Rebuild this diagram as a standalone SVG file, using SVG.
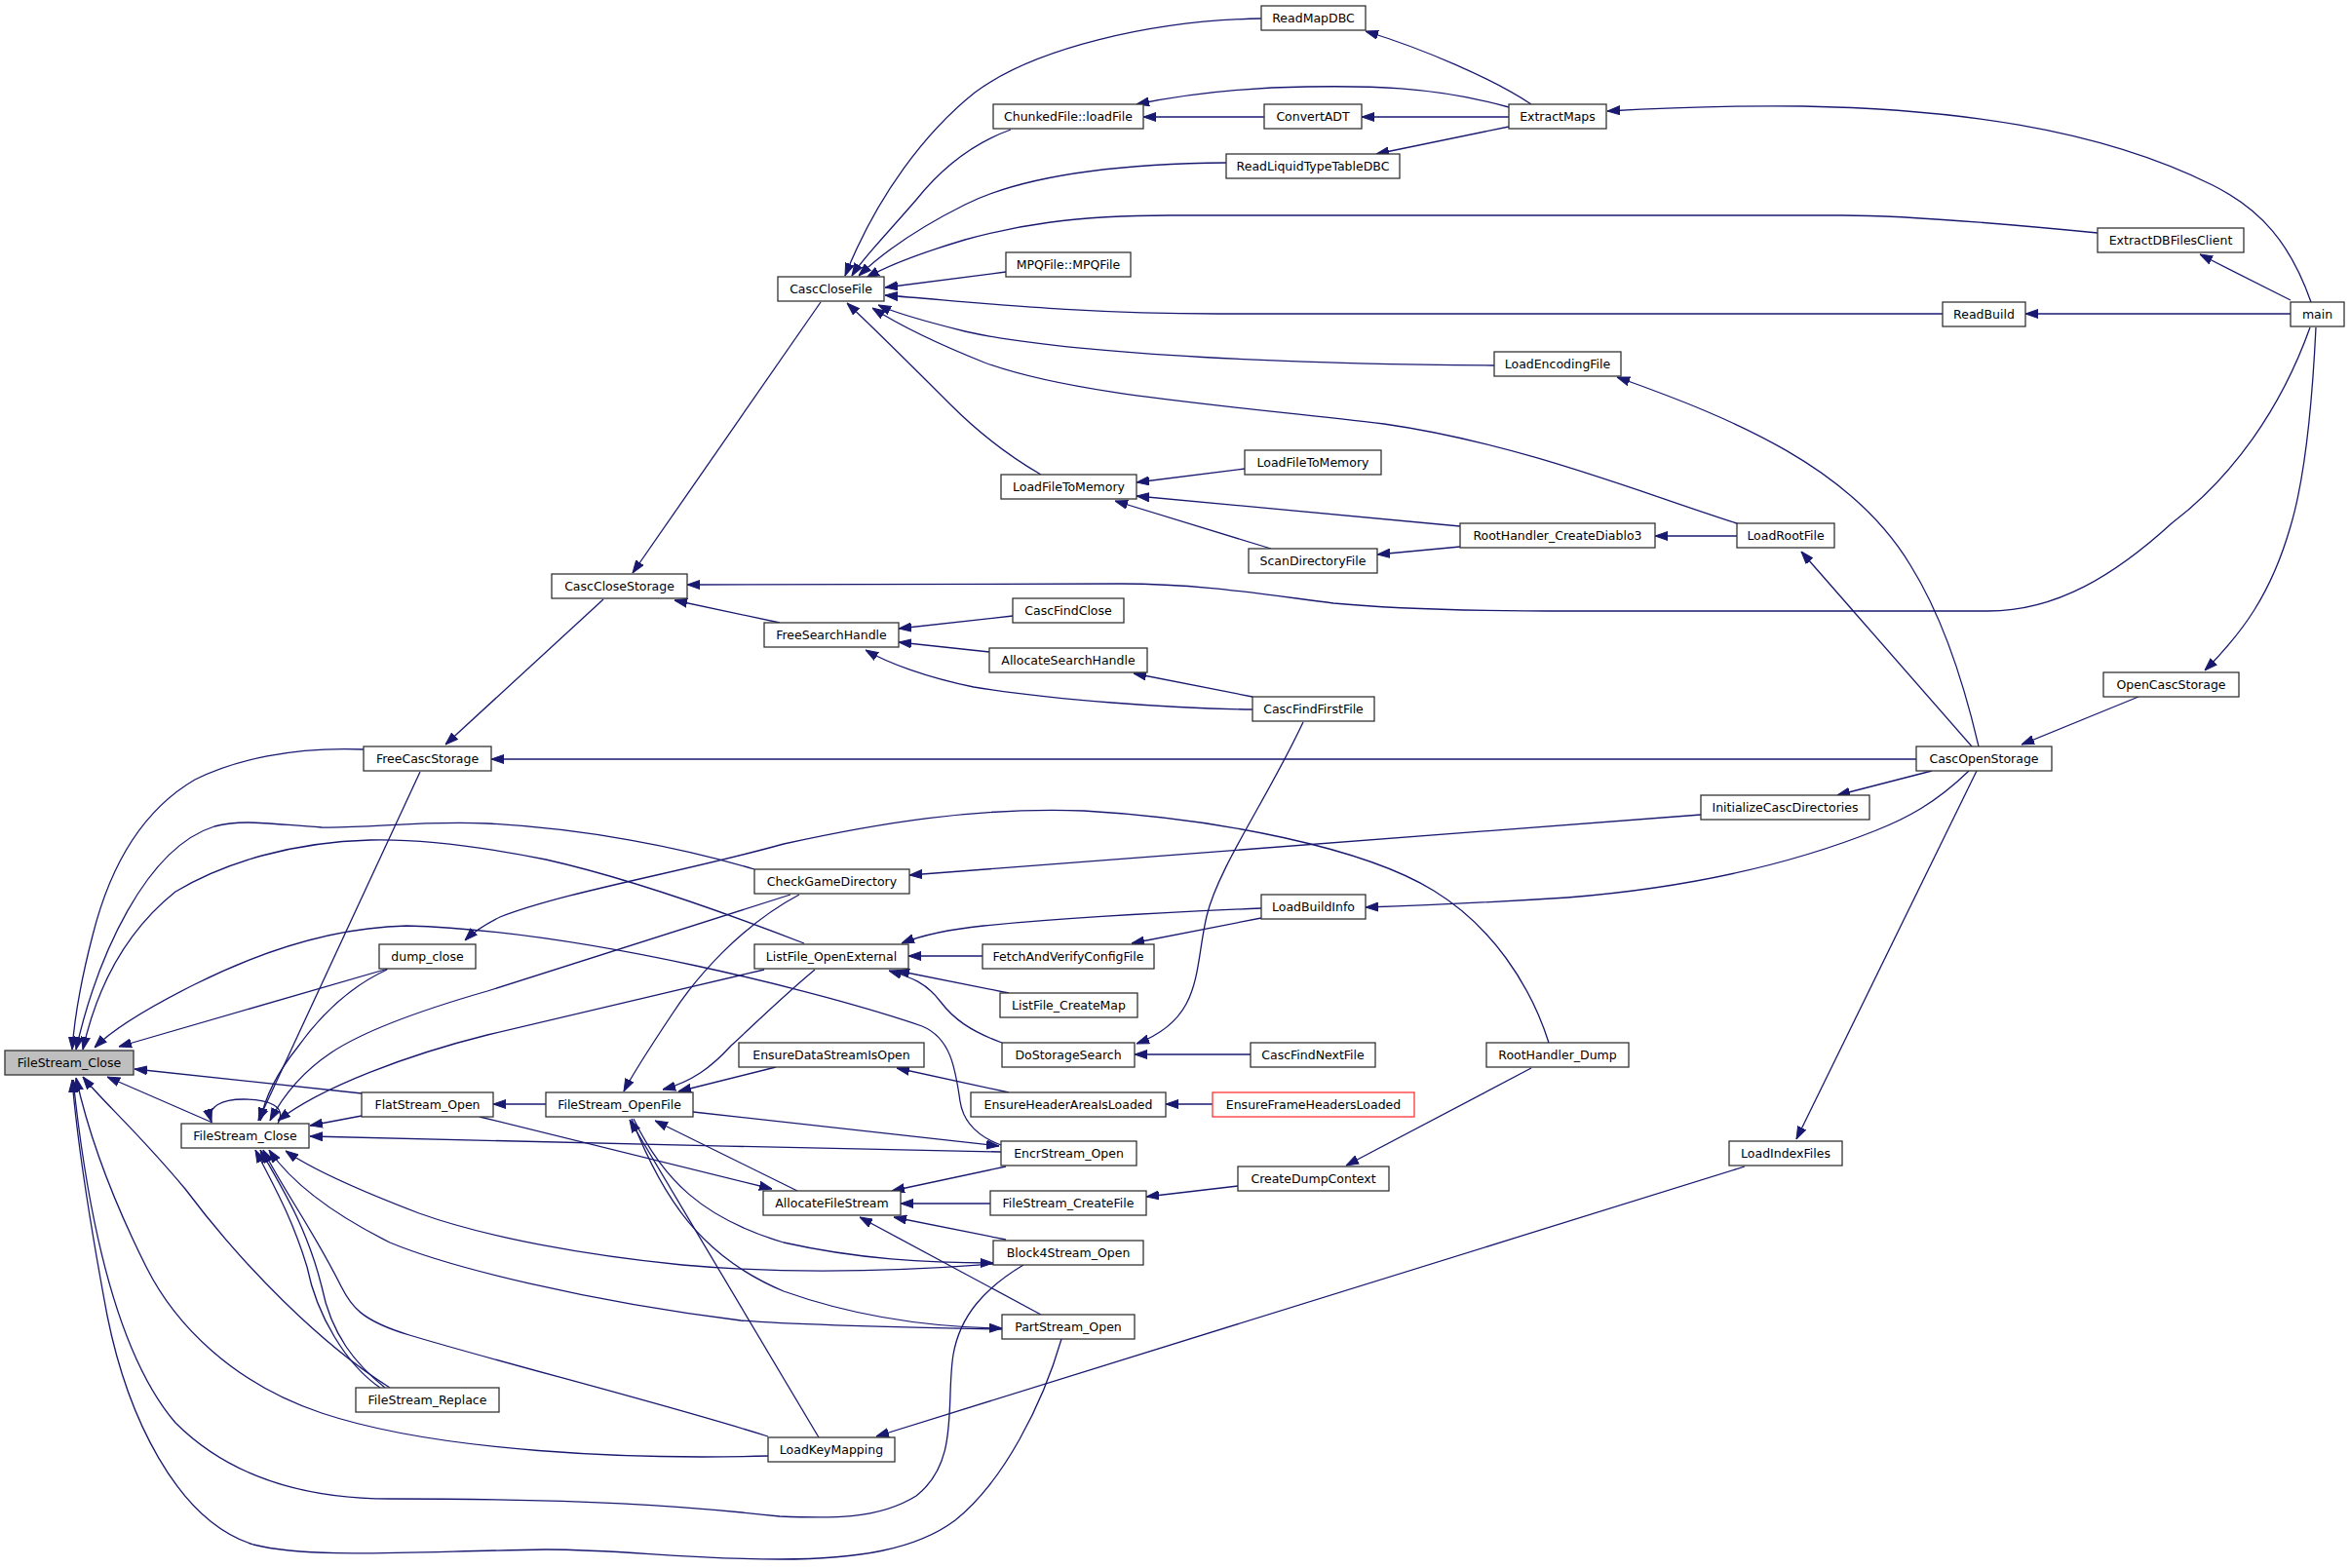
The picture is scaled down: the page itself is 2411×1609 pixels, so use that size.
<svg xmlns="http://www.w3.org/2000/svg" width="2411" height="1609" viewBox="0 0 2411 1609">
<style>
.n rect{fill:#ffffff;stroke:#333333;stroke-width:1.3}
.n text{font-family:"DejaVu Sans","Liberation Sans",sans-serif;font-size:12.5px;fill:#000000;text-anchor:middle}
.hl rect{fill:#bfbfbf}
.red rect{stroke:#ff3333}
.e path{fill:none;stroke:#191970;stroke-width:1.3;marker-end:url(#a)}
.e path.na{marker-end:none}
</style>
<defs>
<marker id="a" markerWidth="13" markerHeight="10" refX="13" refY="5" orient="auto" markerUnits="userSpaceOnUse"><path d="M0,0.5 L13,5 L0,9.5 z" fill="#191970" stroke="#191970" stroke-width="1"/></marker>
</defs>
<rect width="2411" height="1609" fill="#ffffff"/>
<g id="edges" class="e">
<path d="M1294,19 C1180,21 1060,50 1000,95 C950,135 900,200 867,283"/>
<path d="M1037,133 C990,150 960,180 940,205 C910,240 885,265 874,283"/>
<path d="M1258,167 C1150,168 1050,180 990,210 C940,235 905,260 881,283"/>
<path d="M2152,239 C2050,229 1950,221 1890,221 L1200,221 C1100,221 1040,232 990,246 C950,258 915,270 889,285"/>
<path d="M1032,279 L908,295"/>
<path d="M1993,322 L1250,322 C1100,322 1000,310 908,303"/>
<path d="M1533,375 C1350,374 1100,365 990,340 C950,330 920,322 901,313"/>
<path d="M1785,538 C1690,508 1560,455 1420,435 C1250,415 1100,405 1010,372 C960,352 920,332 895,316"/>
<path d="M1068,487 C1030,465 1000,440 975,415 C945,385 900,340 869,311"/>
<path d="M842,310 L649,588"/>
<path d="M1571,107 C1530,80 1460,50 1401,32"/>
<path d="M1548,110 C1470,88 1400,88 1340,89 C1270,90 1210,98 1166,107"/>
<path d="M1297,120 L1173,120"/>
<path d="M1548,120 L1397,120"/>
<path d="M1548,130 L1412,158"/>
<path d="M2371,310 C2350,250 2320,215 2270,190 C2150,130 2000,112 1850,109 C1780,108 1720,110 1649,114"/>
<path d="M2350,308 L2257,261"/>
<path d="M2350,322 L2078,322"/>
<path d="M2030,766 C2010,680 1985,620 1960,580 C1900,480 1780,430 1659,387"/>
<path d="M2023,766 L1848,566"/>
<path d="M1782,550 L1698,550"/>
<path d="M1277,481 L1166,495"/>
<path d="M1498,540 L1166,509"/>
<path d="M1304,563 L1144,514"/>
<path d="M1498,561 L1413,569"/>
<path d="M2370,336 C2340,420 2290,490 2228,537 C2170,590 2110,627 2040,627 L1610,627 C1500,627 1430,625 1368,619 C1290,609 1230,599 1150,599 L705,600"/>
<path d="M2376,336 C2372,420 2365,490 2350,540 C2330,610 2300,650 2262,688"/>
<path d="M2194,715 L2074,764"/>
<path d="M619,615 L457,764"/>
<path d="M800,639 L692,616"/>
<path d="M1039,632 L922,645"/>
<path d="M1015,669 L922,659"/>
<path d="M1285,728 C1200,727 1080,718 999,705 C950,695 910,680 888,667"/>
<path d="M1285,715 L1163,691"/>
<path d="M1966,779 L504,779"/>
<path d="M1337,741 C1300,820 1250,890 1238,940 C1225,995 1235,1045 1166,1071"/>
<path d="M1283,1082 L1164,1082"/>
<path d="M1982,791 L1885,816"/>
<path d="M1745,836 L933,898"/>
<path d="M2020,791 C1985,825 1955,840 1925,852 C1830,890 1720,912 1608,921 C1530,926 1460,929 1401,931"/>
<path d="M2028,791 L1843,1169"/>
<path d="M1294,932 C1200,936 1080,943 1009,950 C970,954 945,960 925,968"/>
<path d="M1008,981 L932,981"/>
<path d="M1294,942 L1161,968"/>
<path d="M1035,1019 L920,996"/>
<path d="M1028,1070 C995,1058 978,1045 965,1028 C950,1008 935,1003 912,996"/>
<path d="M1589,1070 C1570,1010 1530,950 1471,914 C1400,870 1250,840 1112,832 C1000,828 900,845 804,866 C700,895 580,915 513,941 C495,950 485,957 477,965"/>
<path d="M1571,1096 L1381,1196"/>
<path d="M1270,1217 L1176,1228"/>
<path d="M1016,1235 L924,1235"/>
<path d="M1035,1121 L920,1096"/>
<path d="M1244,1133 L1196,1133"/>
<path d="M1032,1197 L915,1222"/>
<path d="M1032,1272 L917,1249"/>
<path d="M1068,1349 L882,1249"/>
<path d="M1790,1197 L899,1474"/>
<path d="M373,769 C300,766 240,780 200,800 C140,835 110,900 95,960 C82,1010 76,1050 74,1077"/>
<path d="M774,892 C700,870 600,850 500,845 C430,842 380,850 330,849 C280,846 250,840 220,848 C150,870 100,980 78,1077"/>
<path d="M825,968 C740,935 640,900 560,882 C480,866 420,861 380,862 C300,864 230,885 180,915 C130,955 100,1010 85,1077"/>
<path d="M398,994 L122,1074"/>
<path d="M1027,1175 C1000,1165 988,1150 985,1130 C980,1095 975,1065 946,1053 C850,1020 600,955 417,950 C330,952 250,985 200,1010 C160,1030 120,1052 97,1075"/>
<path d="M371,1122 L138,1097"/>
<path d="M218,1152 L110,1105"/>
<path d="M400,1424 C330,1380 250,1300 190,1220 C140,1160 105,1130 85,1105"/>
<path d="M788,1494 C650,1498 450,1490 330,1450 C240,1420 180,1360 150,1300 C110,1220 90,1160 78,1106"/>
<path d="M1050,1298 C1010,1322 985,1350 978,1390 C970,1440 985,1500 940,1535 C900,1560 850,1558 800,1556 C700,1545 600,1538 400,1538 C300,1538 230,1510 180,1460 C120,1390 90,1250 75,1108"/>
<path d="M1089,1374 C1070,1440 1030,1520 980,1560 C940,1590 880,1600 800,1600 C700,1600 640,1590 560,1590 C420,1592 320,1600 260,1585 C180,1560 130,1450 110,1350 C95,1270 80,1180 74,1108"/>
<path d="M285,1153 C295,1135 275,1128 250,1128 C228,1128 212,1135 217,1151"/>
<path d="M371,1145 L318,1155"/>
<path d="M1027,1182 C800,1178 500,1170 318,1166"/>
<path d="M431,792 L265,1150"/>
<path d="M397,995 C360,1012 330,1040 305,1075 C285,1100 272,1125 267,1150"/>
<path d="M811,918 L500,1017 C420,1040 370,1060 340,1080 C310,1100 290,1125 277,1150"/>
<path d="M784,995 L500,1062 C420,1082 330,1115 285,1150"/>
<path d="M1019,1297 C900,1306 800,1307 700,1298 C600,1288 500,1270 430,1245 C370,1222 320,1200 293,1181"/>
<path d="M1028,1364 C920,1362 820,1360 760,1355 C600,1335 460,1300 400,1275 C340,1245 300,1215 276,1180"/>
<path d="M788,1474 C680,1440 520,1400 420,1370 C370,1355 360,1340 350,1320 C320,1260 290,1220 270,1180"/>
<path d="M395,1424 C365,1400 340,1370 330,1320 C315,1260 290,1220 267,1180"/>
<path d="M390,1424 C355,1400 325,1350 315,1300 C300,1250 280,1215 262,1180"/>
<path d="M560,1133 L506,1133"/>
<path d="M820,918 C760,950 714,1003 690,1040 C670,1070 650,1100 640,1120"/>
<path d="M836,995 C800,1025 770,1055 750,1073 C730,1095 710,1110 680,1118"/>
<path d="M796,1095 L696,1120"/>
<path d="M711,1141 L1025,1176"/>
<path d="M492,1146 L792,1220"/>
<path d="M818,1222 L672,1150"/>
<path d="M650,1148 C680,1210 720,1250 804,1275 C880,1292 950,1296 1019,1296"/>
<path d="M648,1148 C680,1230 720,1290 804,1325 C880,1352 960,1362 1028,1363"/>
<path d="M840,1475 L646,1149"/>
</g>
<g id="n_ReadMapDBC" class="n"><rect x="1294" y="6" width="107" height="25"/><text x="1347.5" y="23">ReadMapDBC</text></g>
<g id="n_ChunkedFile_loadFile" class="n"><rect x="1019" y="107" width="154" height="25"/><text x="1096" y="124">ChunkedFile::loadFile</text></g>
<g id="n_ConvertADT" class="n"><rect x="1297" y="107" width="100" height="25"/><text x="1347" y="124">ConvertADT</text></g>
<g id="n_ExtractMaps" class="n"><rect x="1548" y="107" width="100" height="25"/><text x="1598" y="124">ExtractMaps</text></g>
<g id="n_ReadLiquidTypeTableDBC" class="n"><rect x="1258" y="158" width="178" height="25"/><text x="1347" y="175">ReadLiquidTypeTableDBC</text></g>
<g id="n_ExtractDBFilesClient" class="n"><rect x="2152" y="234" width="150" height="25"/><text x="2227" y="251">ExtractDBFilesClient</text></g>
<g id="n_MPQFile" class="n"><rect x="1032" y="259" width="128" height="25"/><text x="1096" y="276">MPQFile::MPQFile</text></g>
<g id="n_CascCloseFile" class="n"><rect x="798" y="284" width="109" height="25"/><text x="852.5" y="301">CascCloseFile</text></g>
<g id="n_ReadBuild" class="n"><rect x="1993" y="310" width="85" height="25"/><text x="2035.5" y="327">ReadBuild</text></g>
<g id="n_main" class="n"><rect x="2350" y="310" width="55" height="25"/><text x="2377.5" y="327">main</text></g>
<g id="n_LoadEncodingFile" class="n"><rect x="1533" y="361" width="130" height="25"/><text x="1598" y="378">LoadEncodingFile</text></g>
<g id="n_LoadFileToMemory2" class="n"><rect x="1277" y="462" width="140" height="25"/><text x="1347" y="479">LoadFileToMemory</text></g>
<g id="n_LoadFileToMemory1" class="n"><rect x="1027" y="487" width="139" height="25"/><text x="1096.5" y="504">LoadFileToMemory</text></g>
<g id="n_RootHandler_CreateDiablo3" class="n"><rect x="1498" y="537" width="200" height="25"/><text x="1598" y="554">RootHandler_CreateDiablo3</text></g>
<g id="n_LoadRootFile" class="n"><rect x="1782" y="537" width="100" height="25"/><text x="1832" y="554">LoadRootFile</text></g>
<g id="n_ScanDirectoryFile" class="n"><rect x="1281" y="563" width="132" height="25"/><text x="1347" y="580">ScanDirectoryFile</text></g>
<g id="n_CascCloseStorage" class="n"><rect x="566" y="589" width="139" height="25"/><text x="635.5" y="606">CascCloseStorage</text></g>
<g id="n_CascFindClose" class="n"><rect x="1039" y="614" width="114" height="25"/><text x="1096" y="631">CascFindClose</text></g>
<g id="n_FreeSearchHandle" class="n"><rect x="784" y="639" width="138" height="25"/><text x="853" y="656">FreeSearchHandle</text></g>
<g id="n_AllocateSearchHandle" class="n"><rect x="1015" y="665" width="162" height="25"/><text x="1096" y="682">AllocateSearchHandle</text></g>
<g id="n_OpenCascStorage" class="n"><rect x="2158" y="690" width="139" height="25"/><text x="2227.5" y="707">OpenCascStorage</text></g>
<g id="n_CascFindFirstFile" class="n"><rect x="1285" y="715" width="125" height="25"/><text x="1347.5" y="732">CascFindFirstFile</text></g>
<g id="n_FreeCascStorage" class="n"><rect x="373" y="766" width="131" height="25"/><text x="438.5" y="783">FreeCascStorage</text></g>
<g id="n_CascOpenStorage" class="n"><rect x="1966" y="766" width="139" height="25"/><text x="2035.5" y="783">CascOpenStorage</text></g>
<g id="n_InitializeCascDirectories" class="n"><rect x="1745" y="816" width="173" height="25"/><text x="1831.5" y="833">InitializeCascDirectories</text></g>
<g id="n_CheckGameDirectory" class="n"><rect x="774" y="892" width="159" height="25"/><text x="853.5" y="909">CheckGameDirectory</text></g>
<g id="n_LoadBuildInfo" class="n"><rect x="1294" y="918" width="107" height="25"/><text x="1347.5" y="935">LoadBuildInfo</text></g>
<g id="n_dump_close" class="n"><rect x="389" y="969" width="99" height="25"/><text x="438.5" y="986">dump_close</text></g>
<g id="n_ListFile_OpenExternal" class="n"><rect x="774" y="969" width="158" height="25"/><text x="853" y="986">ListFile_OpenExternal</text></g>
<g id="n_FetchAndVerifyConfigFile" class="n"><rect x="1008" y="969" width="176" height="25"/><text x="1096" y="986">FetchAndVerifyConfigFile</text></g>
<g id="n_ListFile_CreateMap" class="n"><rect x="1026" y="1019" width="141" height="25"/><text x="1096.5" y="1036">ListFile_CreateMap</text></g>
<g id="n_EnsureDataStreamIsOpen" class="n"><rect x="758" y="1070" width="190" height="25"/><text x="853" y="1087">EnsureDataStreamIsOpen</text></g>
<g id="n_DoStorageSearch" class="n"><rect x="1028" y="1070" width="136" height="25"/><text x="1096" y="1087">DoStorageSearch</text></g>
<g id="n_CascFindNextFile" class="n"><rect x="1283" y="1070" width="128" height="25"/><text x="1347" y="1087">CascFindNextFile</text></g>
<g id="n_RootHandler_Dump" class="n"><rect x="1525" y="1070" width="146" height="25"/><text x="1598" y="1087">RootHandler_Dump</text></g>
<g id="n_FileStream_Close" class="n hl"><rect x="5" y="1078" width="132" height="25"/><text x="71" y="1095">FileStream_Close</text></g>
<g id="n_FlatStream_Open" class="n"><rect x="371" y="1121" width="135" height="25"/><text x="438.5" y="1138">FlatStream_Open</text></g>
<g id="n_FileStream_OpenFile" class="n"><rect x="560" y="1121" width="151" height="25"/><text x="635.5" y="1138">FileStream_OpenFile</text></g>
<g id="n_EnsureHeaderAreaIsLoaded" class="n"><rect x="996" y="1121" width="200" height="25"/><text x="1096" y="1138">EnsureHeaderAreaIsLoaded</text></g>
<g id="n_EnsureFrameHeadersLoaded" class="n red"><rect x="1244" y="1121" width="207" height="25"/><text x="1347.5" y="1138">EnsureFrameHeadersLoaded</text></g>
<g id="n_FileStream_Close2" class="n"><rect x="186" y="1153" width="131" height="25"/><text x="251.5" y="1170">FileStream_Close</text></g>
<g id="n_EncrStream_Open" class="n"><rect x="1027" y="1171" width="139" height="25"/><text x="1096.5" y="1188">EncrStream_Open</text></g>
<g id="n_LoadIndexFiles" class="n"><rect x="1774" y="1171" width="116" height="25"/><text x="1832" y="1188">LoadIndexFiles</text></g>
<g id="n_CreateDumpContext" class="n"><rect x="1270" y="1197" width="155" height="25"/><text x="1347.5" y="1214">CreateDumpContext</text></g>
<g id="n_AllocateFileStream" class="n"><rect x="783" y="1222" width="141" height="25"/><text x="853.5" y="1239">AllocateFileStream</text></g>
<g id="n_FileStream_CreateFile" class="n"><rect x="1016" y="1222" width="160" height="25"/><text x="1096" y="1239">FileStream_CreateFile</text></g>
<g id="n_Block4Stream_Open" class="n"><rect x="1019" y="1273" width="154" height="25"/><text x="1096" y="1290">Block4Stream_Open</text></g>
<g id="n_PartStream_Open" class="n"><rect x="1028" y="1349" width="136" height="25"/><text x="1096" y="1366">PartStream_Open</text></g>
<g id="n_FileStream_Replace" class="n"><rect x="365" y="1424" width="147" height="25"/><text x="438.5" y="1441">FileStream_Replace</text></g>
<g id="n_LoadKeyMapping" class="n"><rect x="788" y="1475" width="130" height="25"/><text x="853" y="1492">LoadKeyMapping</text></g>
</svg>
